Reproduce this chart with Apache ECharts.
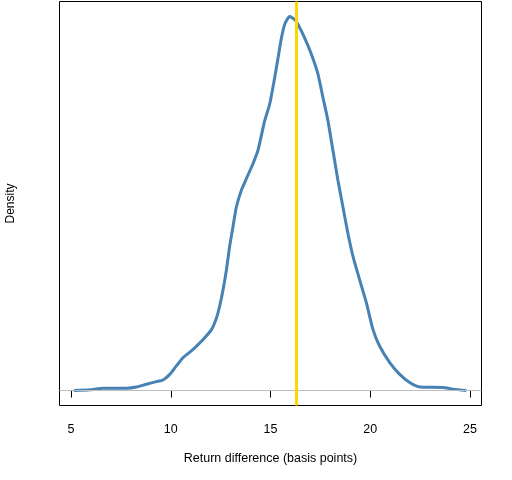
<!DOCTYPE html>
<html>
<head>
<meta charset="utf-8">
<script src="https://cdn.jsdelivr.net/npm/echarts@6/dist/echarts.min.js"></script>
<style>html,body{margin:0;padding:0;background:#fff;}#c{width:512px;height:480px;}</style>
</head>
<body>
<div id="c"></div>
<script>
var xs = [5.14,5.94,6.60,7.78,8.28,8.78,9.28,9.61,9.95,10.28,10.61,11.12,11.62,12.04,12.29,12.45,12.62,12.79,12.95,13.12,13.29,13.54,13.79,14.12,14.37,14.71,14.96,15.21,15.38,15.55,15.71,15.96,16.21,16.38,16.71,17.05,17.38,17.63,17.88,18.13,18.38,18.63,18.88,19.14,19.47,19.81,20.14,20.47,20.98,21.48,21.98,22.48,23.65,24.15,24.82];
var ys = [0.0000,0.0003,0.0010,0.0010,0.0015,0.0027,0.0038,0.0045,0.0069,0.0105,0.0140,0.0176,0.0218,0.0260,0.0310,0.0360,0.0430,0.0516,0.0615,0.0700,0.0785,0.0856,0.0905,0.0969,0.1026,0.1153,0.1224,0.1337,0.1422,0.1507,0.1564,0.1598,0.1585,0.1564,0.1507,0.1437,0.1352,0.1252,0.1153,0.1026,0.0898,0.0785,0.0672,0.0572,0.0473,0.0374,0.0260,0.0190,0.0119,0.0069,0.0034,0.0015,0.0013,0.0006,0.0000];
var xTicks = [5, 10, 15, 20, 25];
var vlineValue = 16.28;
var baselineValue = 0;

var points = xs.map(function (x, i) { return [x, ys[i]]; });
var chart = echarts.init(document.getElementById('c'), null, {renderer: 'canvas'});
var font = 'Liberation Sans, Arial, sans-serif';
chart.setOption({
  animation: false,
  grid: {left: 59.5, right: 30.5, top: 1.5, bottom: 74.5, show: true, borderColor: '#000', borderWidth: 1,
    backgroundColor: 'transparent', containLabel: false, outerBoundsMode: 'none'},
  xAxis: {
    type: 'value', min: 4.42, max: 25.58,
    axisLine: {show: false},
    splitLine: {show: false},
    axisTick: {show: true, customValues: xTicks, length: 7, lineStyle: {color: '#000', width: 1}},
    axisLabel: {customValues: xTicks, color: '#000', fontSize: 12.5, fontFamily: font, margin: 17.5},
    name: 'Return difference (basis points)', nameLocation: 'middle', nameGap: 46.5,
    nameTextStyle: {color: '#000', fontSize: 12.5, fontFamily: font}
  },
  yAxis: {
    type: 'value', min: -0.0064, max: 0.1662,
    axisLine: {show: false}, axisTick: {show: false}, axisLabel: {show: false}, splitLine: {show: false},
    name: 'Density', nameLocation: 'middle', nameGap: 43,
    nameTextStyle: {color: '#000', fontSize: 12, fontFamily: font}
  },
  series: [
    {
      type: 'line', data: [], z: 1,
      markLine: {silent: true, symbol: ['none', 'none'], label: {show: false},
        lineStyle: {color: '#BEBEBE', width: 1, type: 'solid'},
        data: [{yAxis: baselineValue}]}
    },
    {
      type: 'line', data: points, showSymbol: false, symbol: 'none', z: 2, smooth: 0.2,
      lineStyle: {color: '#4682B4', width: 3}
    },
    {
      type: 'line', data: [], z: 3,
      markLine: {silent: true, symbol: ['none', 'none'], label: {show: false},
        lineStyle: {color: '#FFD700', width: 3, type: 'solid'},
        data: [{xAxis: vlineValue}]}
    }
  ]
});
</script>
</body>
</html>
